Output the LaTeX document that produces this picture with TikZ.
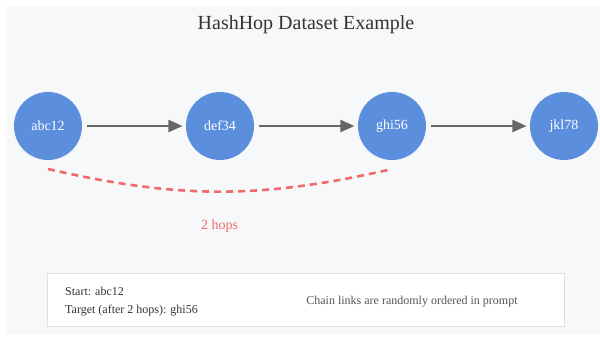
\documentclass[tikz,border=0pt]{standalone}
\usepackage{fontspec}
\setmainfont{Liberation Serif}
\usepackage{tikz,tkz-graph}
\usetikzlibrary{calc,arrows.meta,positioning}
\definecolor{hopblue}{HTML}{5B8EDC}
\definecolor{hopred}{HTML}{F06A6A}
\definecolor{hopgray}{HTML}{666666}
\definecolor{panelbg}{HTML}{F7F8FA}
\definecolor{boxline}{HTML}{DCDFE4}
\definecolor{titlegray}{HTML}{333333}
\definecolor{notegray}{HTML}{555555}
\tikzset{
  >={Triangle[length=14pt,width=12pt]},
  hoplink/.style={draw=hopred, line width=2.6pt, dash pattern=on 7pt off 5pt},
  infobox/.style={draw=boxline, fill=white, line width=1pt}
}

\begin{document}
\begin{tikzpicture}
    \useasboundingbox (-48pt,-211pt) rectangle (552pt,126pt);
    \fill[panelbg] (-41pt,-208pt) rectangle (552pt,120pt);
    \node[font=\fontsize{20pt}{24pt}\selectfont, text=titlegray] (title) at (258pt,101pt) {HashHop Dataset Example};
    \GraphInit[vstyle=Normal]
    \tikzset{
      VertexStyle/.style={shape=circle, fill=hopblue, draw=none, minimum size=68pt,
        inner sep=0pt, text=white, font=\fontsize{14pt}{16pt}\selectfont},
      EdgeStyle/.style={->, draw=hopgray, line width=2pt, shorten <=5pt, shorten >=3.5pt}
    }
    \SetGraphUnit{6.045}
    \Vertices{line}{abc12,def34,ghi56,jkl78}
    \Edges(abc12,def34,ghi56,jkl78)
    % the two-hop link
    \coordinate (arcstart) at ($(abc12.south)+(0,-9pt)$);
    \coordinate (arcend) at ($(ghi56.south)+(0,-9pt)$);
    \draw[hoplink] (arcstart) to[bend right=13] (arcend);
    \node[text=hopred, font=\fontsize{14pt}{16pt}\selectfont] (hops) at ($($(abc12)!.5!(ghi56)$)+(-0.5pt,-100pt)$) {2 hops};
    % info box
    \draw[infobox] (-0.5pt,-148pt) rectangle (516pt,-200pt);
    \node[anchor=west, align=left, inner sep=0pt, text=titlegray,
      font=\fontsize{12pt}{17.3pt}\selectfont] (startinfo) at (17pt,-175.5pt)
      {Start: abc12\\Target (after 2 hops): ghi56};
    \node[text=notegray, font=\fontsize{12pt}{14pt}\selectfont] (note) at (364pt,-176pt)
      {Chain links are randomly ordered in prompt};
  \end{tikzpicture}
\end{document}
